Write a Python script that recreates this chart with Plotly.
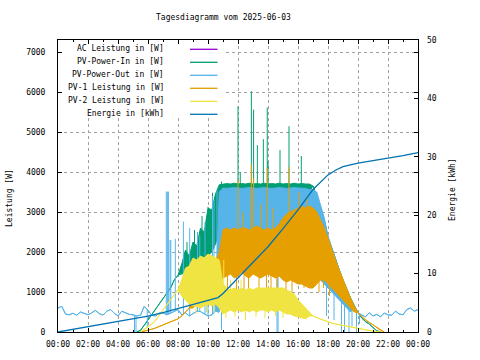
import numpy as np
import pandas as pd
import plotly.graph_objects as go

DAY = pd.Timestamp("2025-06-03")

# ---------------- data (hours of day) ----------------
# PV-Power-Out [W], full day, 15-min grid 0..24
blue_t = np.arange(0, 24.001, 0.25)
blue_hi = [600, 640, 450, 430, 470, 420, 500, 470, 430, 480, 540, 460, 420, 520, 560, 470,
           400, 520, 470, 440, 430, 400, 420, 640, 540, 420, 400, 470, 480, 430, 470, 520,
           560, 430, 480, 400, 470, 520, 510, 460, 400, 430, 520, 3500, 3600, 3590, 3600, 3610,
           3600, 3590, 3600, 3610, 3600, 3590, 3600, 3610, 3600, 3590, 3600, 3610, 3600, 3590, 3600, 3610,
           3600, 3600, 3590, 3560, 3550, 3500, 3200, 2850, 2400, 2100, 1800, 1550, 1250, 1000, 800, 640,
           480, 420, 380, 480, 400, 440, 380, 470, 430, 420, 520, 450, 430, 560, 600, 520, 560]
blue_lo = ([None] * 43 + [500] + [2200] * 24 +
           [1500, 1300, 1300, 1200, 1100, 1000, 900, 800, 700, 600, 500] + [None] * 18)
blue_spk_t = [7.22, 7.29, 7.36, 7.47, 7.52, 7.82, 8.36, 8.78, 9.3, 9.45, 9.8, 10.0, 10.3, 10.4, 10.6,
              5.1, 5.2, 5.95, 10.67, 10.9, 14.6, 14.67, 17.9, 18.4, 18.9, 19.1, 19.4, 19.6, 19.9, 20.1]
blue_spk_v = [3510, 3510, 3510, 2300, 2300, 2330, 2760, 2600, 2500, 2400, 2750, 1900, 3400, 3300, 3550,
              0, 0, 100, 480, 50, 0, 0, 400, 300, 0, 0, 0, 150, 0, 200]

# PV-Power-In [W], 5.25..21.5
green_t = np.arange(5.25, 21.501, 0.25)
green_hi = [0, 40, 170, 300, 430, 560, 700, 820, 950, 1100, 1300, 1420,
            1700, 2050, 1900, 2250, 2150, 2600, 2500, 3100, 3050, 3450, 3680,
            3700, 3710, 3700, 3720, 3700, 3710, 3700, 3720, 3700, 3710, 3700, 3720,
            3700, 3710, 3700, 3720, 3700, 3710, 3700, 3720, 3700, 3710, 3700, 3700,
            3650, 3400, 3100, 2800, 2350, 2100, 1800, 1550, 1300, 1050, 850, 660,
            480, 350, 260, 200, 110, 30, 0]
green_lo = ([None] * 12 + [1450, 1500, 1500, 1500, 1600, 1700, 1800, 1900, 2000, 2200, 2500] +
            [3500] * 24 + [None] * 19)
green_spk_t = [8.6, 9.1, 9.6, 10.0, 10.3, 10.9, 12.0, 12.15, 12.89, 13.04, 13.29, 13.69, 13.95, 14.0,
               14.8, 15.4, 16.22]
green_spk_v = [2250, 2550, 2900, 3130, 3480, 3760, 5640, 4000, 6020, 5560, 4670, 4820, 5610, 4250,
               4550, 5145, 4400]

# PV-1 Leistung [W], 5.5..21.75
orange_t = np.arange(5.5, 21.751, 0.25)
orange_hi = [0, 20, 40, 70, 100, 140, 180, 220, 260, 300, 330, 400, 500, 600,
             1050, 1250, 900, 1150, 1400, 1550, 1800, 2000, 2550,
             2600, 2550, 2600, 2550, 2600, 2600, 2550, 2600, 2650, 2600, 2550, 2600, 2550, 2600,
             2700, 2850, 2950, 3000, 3050, 3100,
             3150, 3100, 3150, 3100, 3000, 2800, 2600, 2350, 2050, 1800, 1550, 1300, 1050, 850, 650,
             480, 380, 300, 240, 180, 110, 40, 0]
orange_lo = ([None] * 14 + [600, 700, 650, 800, 900, 1000, 1100, 1200, 1350] +
             [1400, 1450, 1350, 1400, 1500, 1400, 1350, 1450, 1400, 1350, 1400, 1450, 1400, 1350,
              1400, 1300, 1250, 1300, 1250, 1200] +
             [1200, 1150, 1100, 1100, 1200, 1300, 1300, 1200, 1100, 1000, 900, 800, 700, 600, 500] +
             [None] * 8)
orange_spk_t = [12.0, 12.3, 12.89, 13.04, 13.5, 13.95, 14.3, 15.4, 16.1, 16.6,
                11.3, 11.9, 12.4, 12.7, 13.4, 13.9, 14.2, 14.6, 15.2, 15.6, 16.4, 17.0, 17.4, 17.7, 18.1]
orange_spk_v = [3800, 3000, 4200, 3850, 3200, 4100, 3100, 4130, 3500, 3400,
                700, 900, 640, 800, 700, 900, 1000, 640, 800, 1000, 1100, 1100, 1000, 1100, 900]

# PV-2 Leistung [W], 5.5..21.5
yellow_t = np.arange(5.5, 21.501, 0.25)
yellow_hi = [0, 60, 130, 200, 290, 420, 550, 680, 800, 950, 1060,
             1300, 1600, 1650, 1850, 1800, 1900, 1850, 1950, 1900, 1850, 1800,
             1200, 1100, 1050, 1100, 1050, 1100, 1050, 1100, 1050, 1100, 1100, 1100, 1100, 1100,
             1100, 1100, 1100, 1050, 1000,
             950, 800, 700, 600, 480,
             400, 360, 320, 280, 250, 220, 200, 180, 160, 140, 120, 100, 85, 70, 55, 40, 20, 5, 0]
yellow_lo = ([None] * 11 + [900, 800, 700, 650, 650, 600, 650, 700, 650, 700] + [600] +
             [450, 500, 550, 500, 550, 500, 550, 500, 550, 500, 550, 550, 500, 550, 500, 550, 500,
              450, 450] +
             [400, 380, 350, 330, 400] + [None] * 19)
yellow_spk_t = [11.2, 11.8, 12.5, 13.2, 13.8, 14.5, 15.0, 9.2, 9.9, 10.4, 11.05, 11.5, 12.2]
yellow_spk_v = [350, 380, 300, 380, 350, 400, 350, 450, 500, 480, 1800, 1300, 1300]

# AC Leistung [W] (only a few visible points)
ac_t = [17.92, 17.96, 18.0]
ac_v = [2500, 2480, 2260]

# Energie [kWh]
energy_t = [0, 1, 2, 3, 4, 5, 6, 7, 8, 9, 10, 10.67, 11, 12, 13, 14, 15, 16, 17, 17.4,
            18, 18.5, 19, 20, 21, 22, 23, 24]
energy_v = [0, 0.45, 0.9, 1.3, 1.8, 2.2, 2.7, 3.3, 4.0, 4.7, 5.3, 5.9, 6.6, 9.3, 11.9, 14.6,
            17.7, 20.9, 24.4, 25.4, 26.9, 27.7, 28.3, 28.9, 29.3, 29.7, 30.2, 30.7]

LABELS = ["AC Leistung in [W]", "PV-Power-In in [W]", "PV-Power-Out in [W]",
          "PV-1 Leistung in [W]", "PV-2 Leistung in [W]", "Energie in [kWh]"]
COLORS = ["#9400d3", "#009e73", "#56b4e9", "#e69f00", "#f0e442", "#0072b2"]


def ts(hours):
    return [None if h is None else DAY + pd.Timedelta(hours=float(h)) for h in hours]


fig = go.Figure()


def add_band(t, hi, lo, color):
    assert len(t) == len(hi) == len(lo), (len(t), len(hi), len(lo))
    x = ts(t)
    lo_eff = [h if l is None else l for h, l in zip(hi, lo)]
    fig.add_trace(go.Scatter(x=x, y=lo_eff, mode="lines", line=dict(color=color, width=1),
                             hoverinfo="skip"))
    fig.add_trace(go.Scatter(x=x, y=hi, mode="lines", line=dict(color=color, width=1),
                             fill="tonexty", fillcolor=color))


def add_spikes(t, hi, sp_t, sp_v, color):
    xs, ys = [], []
    for st, sv in zip(sp_t, sp_v):
        base = float(np.interp(st, t, hi))
        xs += [st, st, None]
        ys += [base, sv, None]
    fig.add_trace(go.Scatter(x=ts(xs), y=ys, mode="lines", line=dict(color=color, width=1),
                             connectgaps=False))


# drawing order as in the original: AC, PV-In, PV-Out, PV-1, PV-2, Energie
fig.add_trace(go.Scatter(x=ts(ac_t), y=ac_v, mode="lines", line=dict(color=COLORS[0], width=1)))
add_band(green_t, green_hi, green_lo, COLORS[1])
add_spikes(green_t, green_hi, green_spk_t, green_spk_v, COLORS[1])
add_band(blue_t, blue_hi, blue_lo, COLORS[2])
add_spikes(blue_t, blue_hi, blue_spk_t, blue_spk_v, COLORS[2])
add_band(orange_t, orange_hi, orange_lo, COLORS[3])
add_spikes(orange_t, orange_hi, orange_spk_t, orange_spk_v, COLORS[3])
add_band(yellow_t, yellow_hi, yellow_lo, COLORS[4])
add_spikes(yellow_t, yellow_hi, yellow_spk_t, yellow_spk_v, COLORS[4])
fig.add_trace(go.Scatter(x=ts(energy_t), y=energy_v, mode="lines", yaxis="y2",
                         line=dict(color=COLORS[5], width=1.3)))

GRID = dict(showgrid=True, gridcolor="#a0a0a0", gridwidth=1, griddash="3px,3px")
AX = dict(showline=True, linecolor="black", linewidth=1, ticks="inside", tickcolor="black",
          ticklen=4, zeroline=False)

fig.update_layout(
    width=480, height=360,
    margin=dict(l=58, r=62, t=40, b=28),
    paper_bgcolor="white", plot_bgcolor="white",
    font=dict(family="DejaVu Sans Mono", size=8, color="black"),
    showlegend=False,
    xaxis=dict(type="date", range=[DAY, DAY + pd.Timedelta(hours=24)],
               tick0=DAY, dtick=2 * 3600 * 1000, tickformat="%H:%M", mirror="ticks",
               minor=dict(dtick=3600 * 1000, ticks="inside", ticklen=2, tickcolor="black",
                          showgrid=False),
               ticklabelstandoff=4, **AX, **GRID),
    yaxis=dict(range=[0, 7300], dtick=1000, mirror="ticks", ticklabelstandoff=10, **AX, **GRID),
    yaxis2=dict(range=[0, 50], dtick=10, overlaying="y", side="right", showgrid=False,
                ticks="inside", ticklen=4, tickcolor="black", zeroline=False,
                ticklabelstandoff=8),
)

# opaque key box (leaves a thin strip so the border ticks stay visible)
fig.add_shape(type="rect", xref="paper", yref="paper", x0=5 / 360, x1=(225 - 58) / 360,
              y0=(332 - 118) / 292, y1=(332 - 45) / 292, fillcolor="white",
              line=dict(width=0), layer="above")

# key
rows_px = [49.3, 62.3, 75.3, 88.3, 101.3, 114.3]
for lab, col, ypx in zip(LABELS, COLORS, rows_px):
    yp = (332 - ypx) / 292
    fig.add_annotation(text=lab, xref="paper", yref="paper", x=(166 - 58) / 360, y=yp + 0.004,
                       xanchor="right", yanchor="middle", showarrow=False)
    fig.add_shape(type="line", xref="paper", yref="paper", x0=(190 - 58) / 360,
                  x1=(217.5 - 58) / 360, y0=yp, y1=yp, line=dict(color=col, width=1.3),
                  layer="above")

fig.add_annotation(text="Tagesdiagramm vom 2025-06-03", xref="paper", yref="paper",
                   x=(223.5 - 58) / 360, y=(332 - 18) / 292, xanchor="center",
                   yanchor="middle", showarrow=False)
fig.add_annotation(text="Leistung [W]", xref="paper", yref="paper", x=(10 - 58) / 360,
                   y=(332 - 198) / 292, textangle=-90, xanchor="center", yanchor="middle",
                   showarrow=False)
fig.add_annotation(text="Energie [kWh]", xref="paper", yref="paper", x=(452 - 58) / 360,
                   y=(332 - 190) / 292, textangle=-90, xanchor="center", yanchor="middle",
                   showarrow=False)

fig.write_html("out.html", config={"displayModeBar": False},
               post_script="document.body.style.margin='0';")
